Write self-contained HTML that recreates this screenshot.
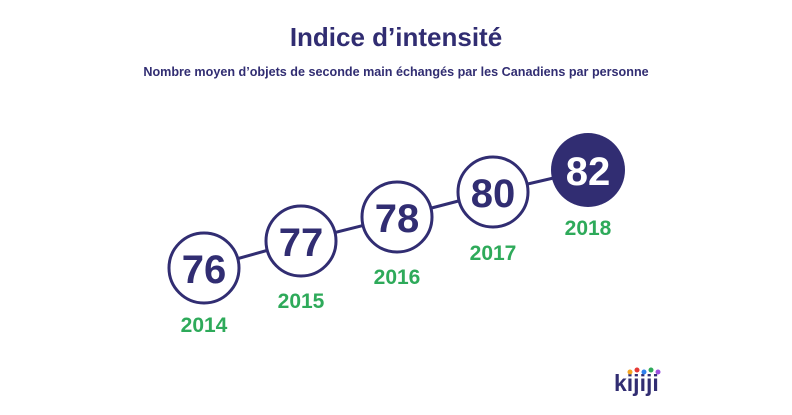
<!DOCTYPE html>
<html><head><style>
body{margin:0;background:#fff;}
svg{display:block}
</style></head><body>
<svg width="792" height="415" xmlns="http://www.w3.org/2000/svg" font-family="Liberation Sans, sans-serif" font-weight="bold">
<text x="396" y="46" text-anchor="middle" font-size="26" fill="#312d72">Indice d’intensité</text>
<text x="396" y="76" text-anchor="middle" font-size="12.6" fill="#312d72">Nombre moyen d’objets de seconde main échangés par les Canadiens par personne</text>
<polyline points="204,268 301,241 397,217 493,192 588,170" fill="none" stroke="#312d72" stroke-width="3"/>
<g fill="#fff" stroke="#312d72" stroke-width="3">
<circle cx="204" cy="268" r="35"/>
<circle cx="301" cy="241" r="35"/>
<circle cx="397" cy="217" r="35"/>
<circle cx="493" cy="192" r="35"/>
</g>
<circle cx="588" cy="170" r="37" fill="#312d72"/>
<g font-size="40" text-anchor="middle" fill="#312d72">
<text x="204" y="283">76</text>
<text x="301" y="256">77</text>
<text x="397" y="232">78</text>
<text x="493" y="207">80</text>
<text x="588" y="185" fill="#fff">82</text>
</g>
<g font-size="21" text-anchor="middle" fill="#2eaa5a">
<text x="204" y="332">2014</text>
<text x="301" y="308">2015</text>
<text x="397" y="284">2016</text>
<text x="493" y="260">2017</text>
<text x="588" y="235">2018</text>
</g>
<text x="614" y="391" font-size="23" fill="#312d72">kijiji</text>
<circle cx="630" cy="372" r="2.5" fill="#f5a623"/>
<circle cx="637" cy="370" r="2.5" fill="#e53935"/>
<circle cx="644" cy="372" r="2.5" fill="#2f80ed"/>
<circle cx="651" cy="370" r="2.5" fill="#2eaa5a"/>
<circle cx="658" cy="372" r="2.5" fill="#9b51e0"/>
</svg>
</body></html>
